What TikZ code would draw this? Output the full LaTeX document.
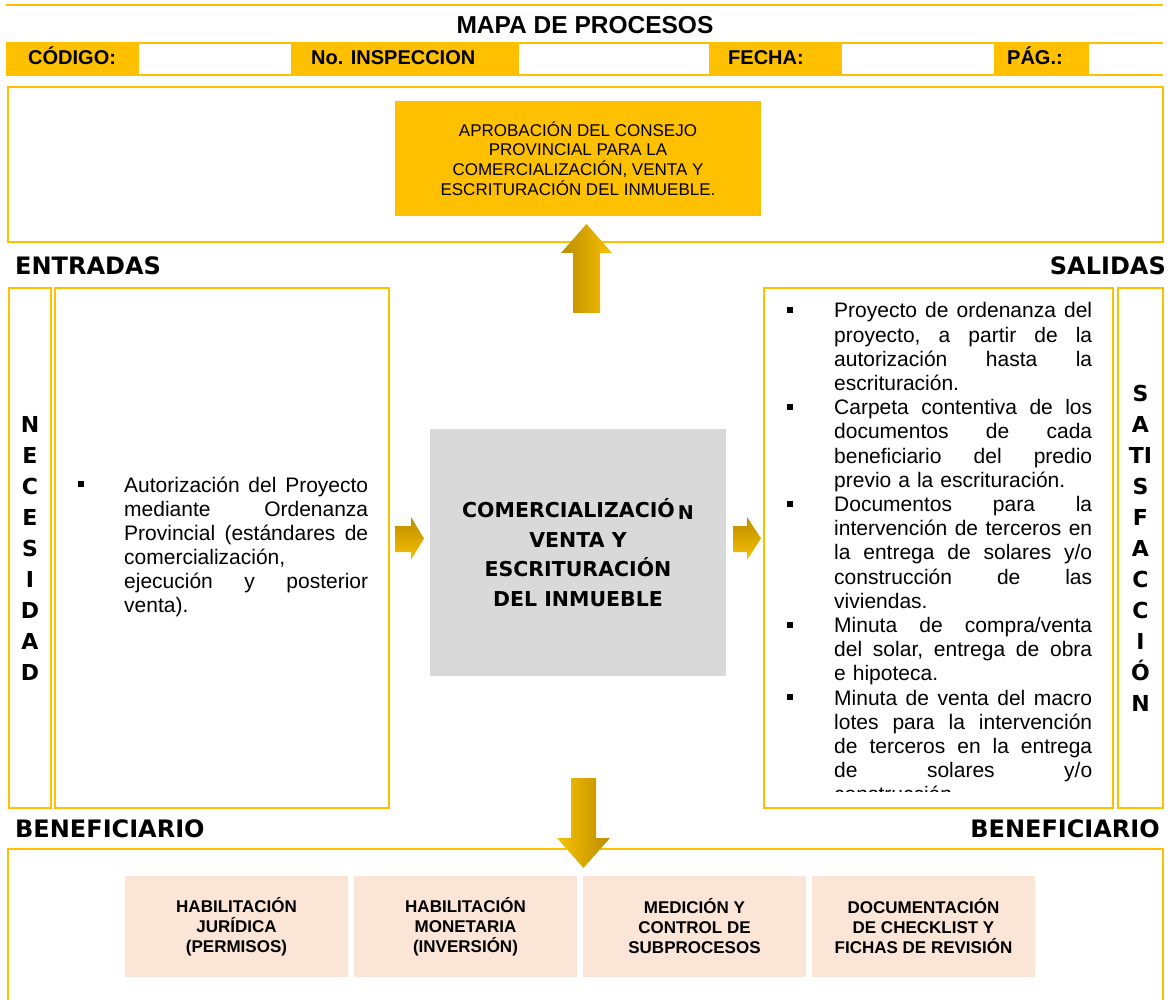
\documentclass[tikz,border=0pt]{standalone}
\usepackage{fontspec}
\setmainfont{Liberation Sans}
\newfontfamily\gruesa{DejaVu Sans}
\usepackage{tikz}
\usetikzlibrary{calc,positioning}
\definecolor{oro}{HTML}{FFC000}
\definecolor{oro-oscuro}{HTML}{BC8C00}
\definecolor{oro-claro}{HTML}{F7C200}
\definecolor{gris-proceso}{HTML}{D9D9D9}
\definecolor{durazno}{HTML}{FBE5D6}
\tikzstyle{marco}=[draw=oro,line width=2.6pt,inner sep=0pt,outer sep=0pt,anchor=north west]
\tikzstyle{celda}=[fill=white,inner sep=0pt,outer sep=0pt,minimum height=30pt,anchor=west]
\tikzstyle{etiqueta}=[inner sep=0pt,anchor=base west,font=\bfseries\fontsize{20}{20}\selectfont]
\tikzstyle{seccion}=[inner sep=0pt,font=\gruesa\bfseries\fontsize{24}{24}\selectfont]
\tikzstyle{vertical}=[inner sep=0pt,align=center,font=\gruesa\bfseries\fontsize{22}{31}\selectfont]
\tikzstyle{parrafo}=[inner sep=0pt,anchor=base west,font=\fontsize{21}{24.2}\selectfont]
\tikzstyle{vineta}=[fill=black,inner sep=0pt,minimum size=6pt]
\tikzstyle{subproceso}=[fill=durazno,inner sep=0pt,outer sep=0pt,minimum width=223pt,minimum height=101pt,align=center,font=\bfseries\fontsize{17}{20}\selectfont]

\begin{document}
\begin{tikzpicture}[x=1pt,y=-1pt]
\useasboundingbox (0,0) rectangle (1171,1000);
\clip (0,0) rectangle (1171,1000);

% encabezado
\draw[oro,line width=2pt] (6,5) -- (1163,5);
\node[inner sep=0pt,anchor=base,font=\bfseries\fontsize{24.5}{24.5}\selectfont] (titulo) at (585,34) {MAPA DE PROCESOS};
\fill[oro] (6,42) rectangle (1163,76);
\node[celda,minimum width=152pt] (cel-codigo) at (139,59) {};
\node[celda,minimum width=190pt] (cel-inspeccion) at (519,59) {};
\node[celda,minimum width=152pt] (cel-fecha) at (842,59) {};
\node[celda,minimum width=74pt] (cel-pag) at (1089,59) {};
\node[etiqueta] (lab-codigo) at (28,65) {CÓDIGO:};
\node[etiqueta] (lab-inspeccion) at (311,65) {No. INSPECCION};
\node[etiqueta] (lab-fecha) at (728,65) {FECHA:};
\node[etiqueta] (lab-pag) at (1007,65) {PÁG.:};

% salida superior
\node[marco,minimum width=1155pt,minimum height=155pt] (caja-aprobacion) at (8,87) {};
\node[fill=oro,inner sep=0pt,minimum width=366pt,minimum height=115pt,align=center,font=\fontsize{17}{19.7}\selectfont] (aprobacion) at (578,158.5) {APROBACIÓN DEL CONSEJO\\PROVINCIAL PARA LA\\COMERCIALIZACIÓN, VENTA Y\\ESCRITURACIÓN DEL INMUEBLE.};

\node[seccion,anchor=base west] (lab-entradas) at (15,275) {ENTRADAS};
\node[seccion,anchor=base east] (lab-salidas) at (1166,275) {SALIDAS};

% columnas
\node[marco,minimum width=42pt,minimum height=520pt] (necesidad) at (9,288) {};
\node[marco,minimum width=334pt,minimum height=520pt] (entradas) at (55,288) {};
\node[marco,minimum width=349pt,minimum height=520pt] (salidas) at (764,288) {};
\node[marco,minimum width=45pt,minimum height=520pt] (satisfaccion) at (1118,288) {};

\node[vertical] (txt-necesidad) at (necesidad.center) {N\\E\\C\\E\\S\\I\\D\\A\\D};
\node[vertical] (txt-satisfaccion) at (satisfaccion.center) {S\\A\\TI\\S\\F\\A\\C\\C\\I\\Ó\\N};

\node[vineta] (vin-e1) at (81,484) {};
\node[parrafo,text width=244pt] (txt-entradas) at (124,492) {\hbox to 244pt{Autorización\hfill del\hfill Proyecto}
\hbox to 244pt{mediante\hfill Ordenanza}
\hbox to 244pt{Provincial\hfill (estándares\hfill de}
\hbox to 244pt{comercialización,\hfill}
\hbox to 244pt{ejecución\hfill y\hfill posterior}
\hbox to 244pt{venta).\hfill}};

\node[fill=gris-proceso,inner sep=0pt,minimum width=296pt,minimum height=247pt,align=center,font=\gruesa\bfseries\fontsize{20.5}{29.7}\selectfont] (proceso) at (578,552.5) {COMERCIALIZACIÓ\hspace{3pt}\raisebox{-2pt}{\fontsize{19}{19}\selectfont N}\\VENTA Y\\ESCRITURACIÓN\\DEL INMUEBLE};

\node[vineta] (vin-s1) at (790,310) {};
\node[vineta] (vin-s2) at (790,406.8) {};
\node[vineta] (vin-s3) at (790,503.6) {};
\node[vineta] (vin-s4) at (790,624.6) {};
\node[vineta] (vin-s5) at (790,697.2) {};
\begin{scope}
\clip (764,288) rectangle (1113,791);
\node[parrafo,text width=258pt] (txt-salidas) at (834,318) {\hbox to 258pt{Proyecto\hfill de\hfill ordenanza\hfill del}
\hbox to 258pt{proyecto,\hfill a\hfill partir\hfill de\hfill la}
\hbox to 258pt{autorización\hfill hasta\hfill la}
\hbox to 258pt{escrituración.\hfill}
\hbox to 258pt{Carpeta\hfill contentiva\hfill de\hfill los}
\hbox to 258pt{documentos\hfill de\hfill cada}
\hbox to 258pt{beneficiario\hfill del\hfill predio}
\hbox to 258pt{previo a la escrituración.\hfill}
\hbox to 258pt{Documentos\hfill para\hfill la}
\hbox to 258pt{intervención\hfill de\hfill terceros\hfill en}
\hbox to 258pt{la\hfill entrega\hfill de\hfill solares\hfill y/o}
\hbox to 258pt{construcción\hfill de\hfill las}
\hbox to 258pt{viviendas.\hfill}
\hbox to 258pt{Minuta\hfill de\hfill compra/venta}
\hbox to 258pt{del\hfill solar,\hfill entrega\hfill de\hfill obra}
\hbox to 258pt{e hipoteca.\hfill}
\hbox to 258pt{Minuta\hfill de\hfill venta\hfill del\hfill macro}
\hbox to 258pt{lotes\hfill para\hfill la\hfill intervención}
\hbox to 258pt{de\hfill terceros\hfill en\hfill la\hfill entrega}
\hbox to 258pt{de\hfill solares\hfill y/o}
\hbox to 258pt{construcción\hfill}};
\end{scope}

\node[seccion,anchor=base west] (lab-benef-izq) at (15,837) {BENEFICIARIO};
\node[seccion,anchor=base east] (lab-benef-der) at (1160,837) {BENEFICIARIO};

% beneficiario
\node[marco,minimum width=1155pt,minimum height=200pt] (beneficiario) at (8,849) {};
\node[subproceso] (sub-juridica) at (236.5,926.5) {HABILITACIÓN\\JURÍDICA\\(PERMISOS)};
\node[subproceso,right=6pt of sub-juridica] (sub-monetaria) {HABILITACIÓN\\MONETARIA\\(INVERSIÓN)};
\node[subproceso,right=6pt of sub-monetaria] (sub-medicion) {MEDICIÓN Y\\CONTROL DE\\SUBPROCESOS};
\node[subproceso,right=6pt of sub-medicion] (sub-documentacion) {DOCUMENTACIÓN\\DE CHECKLIST Y\\FICHAS DE REVISIÓN};

% flechas
\shade[left color=oro-oscuro,right color=oro-claro] (573,313) -- (573,253) -- (561,253) -- (586.5,224) -- (612,253) -- (600,253) -- (600,313) -- cycle;
\shade[left color=oro-claro,right color=oro-oscuro] (571,778) -- (596,778) -- (596,838) -- (610,838) -- (583.5,868) -- (557,838) -- (571,838) -- cycle;
\shade[top color=oro-oscuro,bottom color=oro-claro] (395,526) -- (411,526) -- (411,517) -- (424,538.5) -- (411,560) -- (411,552) -- (395,552) -- cycle;
\shade[top color=oro-oscuro,bottom color=oro-claro] (733,526) -- (747,526) -- (747,517) -- (761,538.5) -- (747,560) -- (747,552) -- (733,552) -- cycle;
\end{tikzpicture}
\end{document}
